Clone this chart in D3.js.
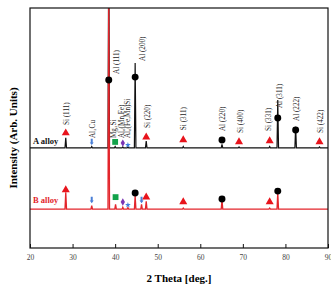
<!DOCTYPE html>
<html>
<head>
<meta charset="utf-8">
<script src="https://cdn.jsdelivr.net/npm/d3@7"></script>
<style>
  body { margin: 0; background: #fff; }
  text { font-family: "Liberation Serif", "Times New Roman", serif; }
</style>
</head>
<body>
<svg id="chart" width="331" height="285"></svg>
<script>
// x ticks
const xTicks = [20, 30, 40, 50, 60, 70, 80, 90]

// diffraction peaks: [2theta, height above baseline]
const peaksA = [[28.4, 42], [34.5, 6], [38.5, 900], [40.0, 6], [41.8, 4], [43.0, 4], [44.7, 354],
  [47.3, 29], [56.0, 6], [65.1, 15], [69.1, 4], [76.3, 6], [78.2, 200], [82.4, 88], [88.0, 4]]
const peaksB = [[28.4, 70], [34.5, 15], [38.5, 900], [40.1, 20], [41.8, 8], [43.0, 6], [44.7, 54],
  [46.2, 20], [47.3, 33], [56.0, 4], [65.1, 38], [76.3, 4], [78.2, 67]]
const baseA = 417
const baseB = 162

// phase markers: [2theta, intensity, phase]
const markersA = [[28.4, 479, 'Si'], [34.5, 442, 'Al2Cu'], [38.5, 700, 'Al'], [40.0, 442, 'Mg2Si'],
  [41.8, 437, 'AlMnFe'], [43.0, 429, 'AlFeMnSi'], [44.7, 712, 'Al'], [47.3, 462, 'Si'],
  [56.0, 450, 'Si'], [65.1, 450, 'Al'], [69.1, 442, 'Si'], [76.3, 446, 'Si'],
  [78.2, 542, 'Al'], [82.4, 492, 'Al'], [88.0, 442, 'Si']]
const markersB = [[28.4, 242, 'Si'], [34.5, 200, 'Al2Cu'], [40.1, 212, 'Mg2Si'], [41.8, 192, 'AlMnFe'],
  [43.0, 179, 'AlFeMnSi'], [44.7, 229, 'Al'], [46.2, 200, 'Al2Cu'], [47.3, 212, 'Si'],
  [56.0, 192, 'Si'], [65.1, 204, 'Al'], [76.3, 192, 'Si'], [78.2, 237, 'Al']]

// peak labels: [text, 2theta, intensity at start of text]
const labels = [['Si (111)', 28.5, 512], ['Al₂Cu', 34.6, 458], ['Al (111)', 40.3, 725],
  ['Mg₂Si', 39.6, 458], ['Al₆(Mn,Fe)', 41.6, 458], ['Al₆(Fe,Mn)Si', 43.0, 458],
  ['Al (200)', 46.4, 779], ['Si (220)', 47.5, 500], ['Si (311)', 56.0, 491],
  ['Al (220)', 65.3, 487], ['Si (400)', 69.5, 479], ['Si (331)', 76.0, 487],
  ['Al (311)', 78.6, 583], ['Al (222)', 82.7, 529], ['Si (422)', 88.3, 479]]

const margin = {left: 30, right: 3, top: 8, bottom: 37}
const W = 331, H = 285
const svg = d3.select('#chart')

const x = d3.scaleLinear().domain([20, 90]).range([margin.left, W - margin.right])
const y = d3.scaleLinear().domain([0, 1000]).range([H - margin.bottom, margin.top])

svg.append('clipPath').attr('id', 'clip')
  .append('rect')
  .attr('x', margin.left).attr('y', margin.top)
  .attr('width', W - margin.left - margin.right)
  .attr('height', H - margin.top - margin.bottom)

const pattern = (peaks, base) => {
  let pts = [[20, base]]
  peaks.forEach(([t, h]) => {
    pts.push([t - 0.18, base], [t, base + h], [t + 0.18, base])
  })
  pts.push([90, base])
  return pts
}

const line = d3.line().x(d => x(d[0])).y(d => y(d[1]))

const plot = svg.append('g').attr('clip-path', 'url(#clip)')

plot.append('path')
  .attr('d', line(pattern(peaksA, baseA)))
  .attr('fill', 'none').attr('stroke', '#111').attr('stroke-width', 1.2)

plot.append('path')
  .attr('d', line(pattern(peaksB, baseB)))
  .attr('fill', 'none').attr('stroke', '#e3252b').attr('stroke-width', 1.3)

// marker shapes
const arrow = {
  draw(ctx, s) {
    ctx.moveTo(-1, -3.2); ctx.lineTo(1, -3.2); ctx.lineTo(1, 0.5); ctx.lineTo(2, 0.5)
    ctx.lineTo(0, 3.2); ctx.lineTo(-2, 0.5); ctx.lineTo(-1, 0.5); ctx.closePath()
  }
}
const style = {
  Si: {type: d3.symbolTriangle, size: 28, color: '#e8141c'},
  Al: {type: d3.symbolCircle, size: 38, color: '#000'},
  Al2Cu: {type: arrow, size: 1, color: '#4a7fd6'},
  Mg2Si: {type: d3.symbolSquare, size: 34, color: '#12a24a'},
  AlMnFe: {type: d3.symbolDiamond, size: 16, color: '#7a35b5'},
  AlFeMnSi: {type: d3.symbolStar, size: 10, color: '#3d7ee0'}
}

const drawMarkers = (data) => {
  svg.append('g').selectAll('path')
    .data(data)
    .join('path')
    .attr('transform', d => `translate(${x(d[0])},${y(d[1])})`)
    .attr('d', d => d3.symbol().type(style[d[2]].type).size(style[d[2]].size)())
    .attr('fill', d => style[d[2]].color)
}
drawMarkers(markersA)
drawMarkers(markersB)

// labels
svg.append('g').selectAll('text')
  .data(labels)
  .join('text')
  .attr('transform', d => `translate(${x(d[1])},${y(d[2])}) rotate(-90)`)
  .attr('dy', '0.35em')
  .attr('font-size', 7.2)
  .attr('fill', '#222')
  .text(d => d[0])

svg.append('text')
  .attr('x', margin.left + 3).attr('y', y(baseA) - 4)
  .attr('font-size', 8.5).attr('font-weight', 'bold').attr('fill', '#111')
  .text('A alloy')

svg.append('text')
  .attr('x', margin.left + 3).attr('y', y(baseB) - 6)
  .attr('font-size', 8.5).attr('font-weight', 'bold').attr('fill', '#e3252b')
  .text('B alloy')

// frame
svg.append('rect')
  .attr('x', margin.left).attr('y', margin.top)
  .attr('width', W - margin.left - margin.right)
  .attr('height', H - margin.top - margin.bottom)
  .attr('fill', 'none').attr('stroke', '#111').attr('stroke-width', 1.2)

const xAxis = d3.axisBottom(x).tickValues(xTicks).tickSizeInner(-4).tickSizeOuter(0).tickPadding(7)
const gx = svg.append('g')
  .attr('transform', `translate(0,${H - margin.bottom})`)
  .call(xAxis)
gx.select('.domain').remove()
gx.selectAll('line').attr('stroke', '#111')
gx.selectAll('text')
  .attr('font-family', '"Liberation Serif", serif')
  .attr('font-size', 7.5).attr('fill', '#444')

svg.append('text')
  .attr('x', (margin.left + W - margin.right) / 2).attr('y', 282)
  .attr('text-anchor', 'middle')
  .attr('font-size', 11).attr('font-weight', 'bold')
  .text('2 Theta [deg.]')

svg.append('text')
  .attr('transform', `translate(13,${(margin.top + H - margin.bottom) / 2 + 10}) rotate(-90)`)
  .attr('text-anchor', 'middle')
  .attr('dy', '0.35em')
  .attr('font-size', 11).attr('font-weight', 'bold')
  .text('Intensity (Arb. Units)')
</script>
</body>
</html>
